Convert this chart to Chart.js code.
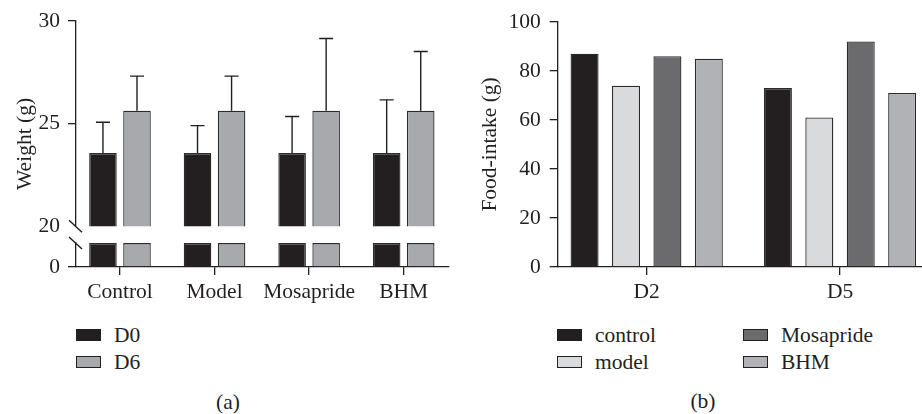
<!DOCTYPE html>
<html>
<head>
<meta charset="utf-8">
<script src="https://cdn.jsdelivr.net/npm/chart.js@4.4.1/dist/chart.umd.min.js"></script>
<style>
  body { margin: 0; background: #fff; width: 922px; height: 414px; position: relative; overflow: hidden;
         font-family: "Liberation Serif", serif; color: #231f20; }
  canvas { position: absolute; top: 0; }
  #weightChart { left: 0; }
  #foodChart { left: 460px; }
  .legend { position: absolute; font-size: 21.5px; }
  .item { position: absolute; white-space: nowrap; height: 26px; line-height: 26px; }
  .box { position: absolute; left: 0; top: 7px; width: 23px; height: 10px; border: 1.3px solid #231f20; }
  .item span { position: absolute; left: 38px; top: 0; }
  .caption { position: absolute; font-size: 21.5px; transform: translate(-50%, -50%); }
</style>
</head>
<body>
<canvas id="weightChart" width="460" height="310"></canvas>
<canvas id="foodChart" width="462" height="310"></canvas>
<div class="legend" id="legendA"></div>
<div class="legend" id="legendB"></div>
<div class="caption" style="left:228px; top:402px;">(a)</div>
<div class="caption" style="left:703px; top:401px;">(b)</div>
<script>
// panel (a): body weight, mean and SD
const groups = ['Control', 'Model', 'Mosapride', 'BHM'];
const d0Mean = [23.56, 23.56, 23.56, 23.56];
const d0Sd = [1.50, 1.34, 1.78, 2.59];
const d6Mean = [25.62, 25.62, 25.62, 25.62];
const d6Sd = [1.69, 1.69, 3.52, 2.89];

// panel (b): food intake
const days = ['D2', 'D5'];
const controlIntake = [87, 73];
const modelIntake = [74, 61];
const mosaprideIntake = [86, 92];
const bhmIntake = [85, 71];

const INK = '#231f20';
const LOW_MAX = 20; // top of the lower axis segment

Chart.defaults.font.family = '"Liberation Serif", serif';
Chart.defaults.font.size = 21.5;
Chart.defaults.color = INK;
Chart.defaults.animation = false;

const toPoints = arr => arr.map((v, i) => ({ x: i, y: v }));

// error bars, upward only
const errorBars = {
  id: 'errorBars',
  afterDatasetsDraw(chart) {
    const ctx = chart.ctx;
    chart.data.datasets.forEach((ds, i) => {
      if (!ds.errors) return;
      const meta = chart.getDatasetMeta(i);
      const yScale = chart.scales[ds.yAxisID];
      ctx.save();
      ctx.strokeStyle = INK;
      ctx.lineWidth = 1.4;
      meta.data.forEach((bar, j) => {
        const top = yScale.getPixelForValue(ds.data[j].y + ds.errors[j]);
        ctx.beginPath();
        ctx.moveTo(bar.x, bar.y);
        ctx.lineTo(bar.x, top);
        ctx.moveTo(bar.x - 7, top);
        ctx.lineTo(bar.x + 7, top);
        ctx.stroke();
      });
      ctx.restore();
    });
  }
};

// the two slashes of the axis break
const axisBreak = {
  id: 'axisBreak',
  afterDraw(chart) {
    const ctx = chart.ctx;
    const x = chart.chartArea.left;
    const marks = [chart.scales.yTop.bottom, chart.scales.yBot.top];
    ctx.save();
    ctx.strokeStyle = INK;
    ctx.lineWidth = 1.4;
    marks.forEach(y => {
      ctx.beginPath();
      ctx.moveTo(x - 7, y - 6);
      ctx.lineTo(x + 6, y + 6);
      ctx.stroke();
    });
    ctx.restore();
  }
};

const axisLine = { display: true, color: INK, width: 1.3 };
const tickMarks = { drawOnChartArea: false, tickLength: 8, color: INK, lineWidth: 1.3, offset: false };

const barStyle = { borderColor: '#2b2b2b', borderWidth: 1.3, categoryPercentage: 0.72, barPercentage: 0.81 };

new Chart(document.getElementById('weightChart'), {
  type: 'bar',
  data: {
    datasets: [
      { label: 'D0', data: toPoints(d0Mean), errors: d0Sd, yAxisID: 'yTop', stack: 'D0', backgroundColor: INK, ...barStyle },
      { label: 'D6', data: toPoints(d6Mean), errors: d6Sd, yAxisID: 'yTop', stack: 'D6', backgroundColor: '#a7a9ac', ...barStyle },
      { label: 'D0', data: toPoints(d0Mean.map(v => Math.min(v, LOW_MAX))), yAxisID: 'yBot', stack: 'D0', backgroundColor: INK, ...barStyle },
      { label: 'D6', data: toPoints(d6Mean.map(v => Math.min(v, LOW_MAX))), yAxisID: 'yBot', stack: 'D6', backgroundColor: '#a7a9ac', ...barStyle }
    ]
  },
  options: {
    responsive: false,
    layout: { padding: { top: 20, right: 11, left: 0, bottom: 0 } },
    plugins: { legend: { display: false }, tooltip: { enabled: false } },
    scales: {
      x: {
        type: 'linear', min: -0.465, max: 3.479, offset: false,
        afterBuildTicks: s => { s.ticks = groups.map((g, i) => ({ value: i })); },
        afterFit: s => { s.height = 43; },
        ticks: { callback: v => groups[v], padding: 4, autoSkip: false, maxRotation: 0 },
        grid: { ...tickMarks },
        border: axisLine
      },
      yTitle: {
        type: 'linear', position: 'left', weight: 10,
        afterFit: s => { s.width = 30; },
        ticks: { display: false },
        grid: { display: false },
        border: { display: false },
        title: { display: true, text: 'Weight (g)', padding: { top: 12, bottom: 0 } }
      },
      yTop: {
        type: 'linear', position: 'left', stack: 'w', stackWeight: 206, weight: 3,
        min: 20, max: 30, stacked: false,
        afterFit: s => { s.width = 46; },
        ticks: { stepSize: 5, padding: 8 },
        grid: { ...tickMarks, color: c => (c.tick && c.tick.value === 20 ? 'rgba(0,0,0,0)' : INK) },
        border: axisLine
      },
      yGap: {
        type: 'linear', position: 'left', stack: 'w', stackWeight: 17, weight: 2,
        afterFit: s => { s.width = 46; },
        ticks: { display: false },
        grid: { display: false },
        border: { display: false }
      },
      yBot: {
        type: 'linear', position: 'left', stack: 'w', stackWeight: 24, weight: 1,
        min: 0, max: LOW_MAX, stacked: false,
        afterFit: s => { s.width = 46; },
        afterBuildTicks: s => { s.ticks = s.ticks.filter(t => t.value === 0); },
        ticks: { padding: 8 },
        grid: { ...tickMarks },
        border: axisLine
      }
    }
  },
  plugins: [errorBars, axisBreak]
});

const intakeSeries = [
  { label: 'control', values: controlIntake, color: INK },
  { label: 'model', values: modelIntake, color: '#d9dadc' },
  { label: 'Mosapride', values: mosaprideIntake, color: '#6b6b6d' },
  { label: 'BHM', values: bhmIntake, color: '#b1b2b5' }
];

new Chart(document.getElementById('foodChart'), {
  type: 'bar',
  data: {
    datasets: intakeSeries.map(s => ({
      label: s.label, data: toPoints(s.values), backgroundColor: s.color,
      borderColor: '#2b2b2b', borderWidth: 1.3, categoryPercentage: 0.857, barPercentage: 0.676
    }))
  },
  options: {
    responsive: false,
    layout: { padding: { top: 20, right: 0, left: 0, bottom: 0 } },
    plugins: { legend: { display: false }, tooltip: { enabled: false } },
    scales: {
      x: {
        type: 'linear', min: -0.4604, max: 1.424, offset: false,
        afterBuildTicks: s => { s.ticks = days.map((d, i) => ({ value: i })); },
        afterFit: s => { s.height = 43; },
        ticks: { callback: v => days[v], padding: 4, autoSkip: false, maxRotation: 0 },
        grid: { ...tickMarks },
        border: axisLine
      },
      y: {
        min: 0, max: 100,
        afterFit: s => { s.width = 97.7; },
        ticks: { stepSize: 20, padding: 9 },
        grid: { ...tickMarks },
        border: axisLine,
        title: { display: true, text: 'Food-intake (g)', padding: { top: 17, bottom: 0 } }
      }
    }
  }
});

// legends
function addItem(parent, label, color, left, top) {
  const item = document.createElement('div');
  item.className = 'item';
  item.style.left = left + 'px';
  item.style.top = top + 'px';
  item.innerHTML = `<div class="box" style="background:${color}"></div><span>${label}</span>`;
  parent.appendChild(item);
}
const legendA = document.getElementById('legendA');
addItem(legendA, 'D0', INK, 76, 322);
addItem(legendA, 'D6', '#a7a9ac', 76, 349);
const legendB = document.getElementById('legendB');
intakeSeries.forEach((s, i) => {
  const col = Math.floor(i / 2), row = i % 2;
  addItem(legendB, s.label, s.color, col ? 743 : 557, row ? 349 : 322);
});
</script>
</body>
</html>
